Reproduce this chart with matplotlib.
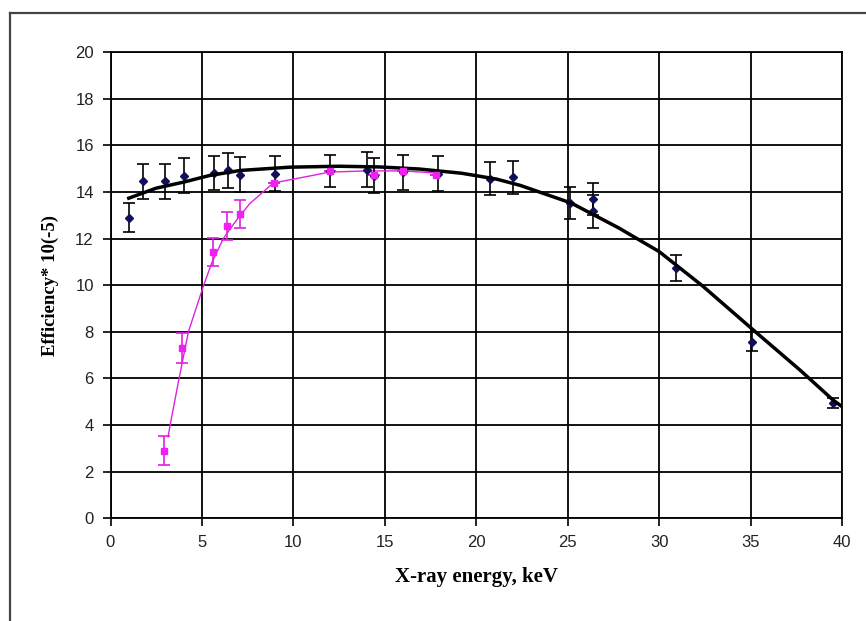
import numpy as np
import matplotlib
matplotlib.use("Agg")
from matplotlib import pyplot as plt
from matplotlib.lines import Line2D

# measured points (blue diamonds, black error bars)
meas_x = [1.0, 1.75, 3.0, 4.0, 5.65, 6.45, 7.1, 9.0, 12.0, 14.0, 14.4, 16.0, 17.9,
          20.75, 22.0, 25.1, 26.4, 26.4, 30.95, 35.1, 39.5]
meas_y = [12.9, 14.45, 14.45, 14.7, 14.83, 14.92, 14.73, 14.78, 14.89, 14.94, 14.7,
          14.84, 14.78, 14.57, 14.62, 13.52, 13.7, 13.16, 10.73, 7.58, 4.94]
meas_err = [0.63, 0.75, 0.75, 0.75, 0.73, 0.75, 0.75, 0.75, 0.7, 0.75, 0.75,
            0.74, 0.76, 0.7, 0.7, 0.67, 0.7, 0.7, 0.55, 0.42, 0.23]

# second set (magenta squares)
mag_x = [2.95, 3.9, 5.62, 6.35, 7.08, 8.95, 12.0, 14.4, 16.0, 17.8]
mag_y = [2.9, 7.3, 11.44, 12.55, 13.06, 14.4, 14.88, 14.73, 14.88, 14.73]
mag_err = [0.63, 0.66, 0.6, 0.6, 0.6, 0.0, 0.0, 0.0, 0.0, 0.0]

# trend lines
fit_x = [1.0, 2.5, 4.0, 5.4, 7.1, 9.8, 12.5, 14.7, 16.9, 19.2, 21.1, 22.4, 25.2,
         27.8, 30.0, 32.4, 35.1, 37.7, 39.5, 40.0]
fit_y = [13.73, 14.16, 14.42, 14.7, 14.92, 15.06, 15.1, 15.07, 14.98, 14.8, 14.55,
         14.28, 13.52, 12.45, 11.44, 9.95, 8.11, 6.36, 5.08, 4.79]
trend_x = [3.15, 3.26, 3.75, 4.26, 5.07, 5.53, 6.17, 6.9, 7.62, 8.9, 12.0, 14.0, 16.0, 18.0]
trend_y = [3.5, 4.0, 6.0, 8.0, 9.94, 10.94, 12.0, 12.8, 13.5, 14.38, 14.85, 14.9, 14.9, 14.8]

xticks = [0, 5, 10, 15, 20, 25, 30, 35, 40]
yticks = [0, 2, 4, 6, 8, 10, 12, 14, 16, 18, 20]

fig = plt.figure(figsize=(8.66, 6.21), dpi=100)
ax = fig.add_axes([110.5/866, 1-518.3/621, (842-110.5)/866, (518.3-52)/621])

# outer chart frame (left and top edges visible)
fl, ft = 10/866, 1-13/621
fig.add_artist(Line2D([fl, fl], [0, ft], color='#444444', lw=1.6))
fig.add_artist(Line2D([fl, 1], [ft, ft], color='#444444', lw=1.6))

ax.errorbar(mag_x, mag_y, yerr=mag_err, fmt='none', ecolor='#e020e0', elinewidth=1.2,
            capsize=4.3, capthick=1.2, zorder=3)
ax.plot(trend_x, trend_y, color='#e020e0', lw=1.0, zorder=3)
ax.errorbar(meas_x, meas_y, yerr=meas_err, fmt='none', ecolor='black', elinewidth=1.2,
            capsize=4.3, capthick=1.2, zorder=4)
ax.plot(meas_x, meas_y, 'D', color='#10105a', ms=4.2, zorder=4)
ax.plot(fit_x, fit_y, color='black', lw=2.5, zorder=5)
ax.plot(mag_x, mag_y, 's', color='#f020f0', ms=4.5, zorder=6)

ax.set_xlim(0, 40)
ax.set_ylim(0, 20)
ax.set_xticks(xticks)
ax.set_yticks(yticks)
ax.grid(True, color='black', lw=1.3)
ax.set_axisbelow(True)
for s in ax.spines.values():
    s.set_linewidth(1.3)
ax.tick_params(direction='out', length=6, width=1.2, labelsize=12,
               colors='black', pad=6)
for lab in ax.get_xticklabels() + ax.get_yticklabels():
    lab.set_family('Liberation Sans')
    lab.set_color('#222222')

ax.set_xlabel('X-ray energy, keV', family='Liberation Serif', weight='bold',
              fontsize=15, labelpad=12)
ax.set_ylabel('Efficiency* 10(-5)', family='Liberation Serif', weight='bold',
              fontsize=13.5, labelpad=12)

fig.savefig('out.png', dpi=100)
